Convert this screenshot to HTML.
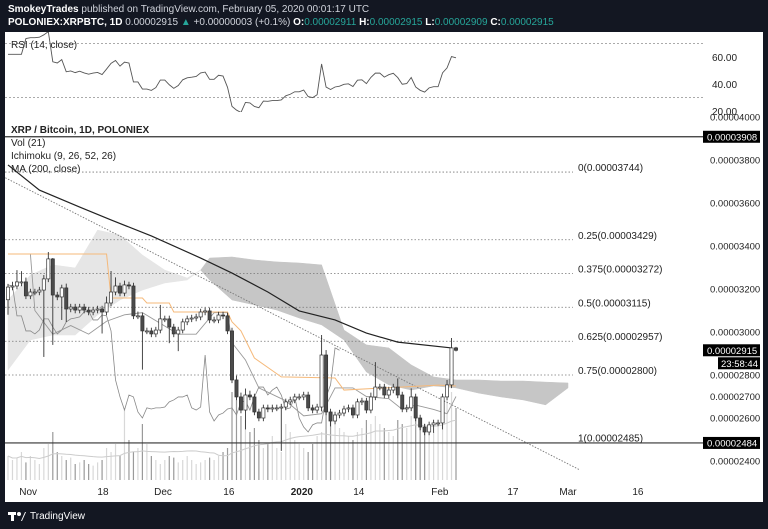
<!DOCTYPE html>
<html><head><meta charset="utf-8">
<style>
html,body{margin:0;padding:0;background:#131722;width:768px;height:529px;overflow:hidden;font-family:"Liberation Sans",sans-serif}
#hdr{position:absolute;left:8px;top:3px;color:#d1d4dc;font-size:10px;line-height:13px;white-space:nowrap}
#hdr b{color:#fff}
.g{color:#26a69a}
#panel{position:absolute;left:5px;top:32px;width:758px;height:470px;background:#fff}
svg{position:absolute;left:0;top:0}
#logo{position:absolute;left:8px;top:510px;color:#fff;font-size:10px;display:flex;align-items:center;gap:4px}
</style></head><body>
<div id="hdr">
<div><b>SmokeyTrades</b> published on TradingView.com, February 05, 2020 00:01:17 UTC</div>
<div><b>POLONIEX:XRPBTC, 1D</b> 0.00002915 <span class="g">▲</span> +0.00000003 (+0.1%) <b>O:</b><span class="g">0.00002911</span> <b>H:</b><span class="g">0.00002915</span> <b>L:</b><span class="g">0.00002909</span> <b>C:</b><span class="g">0.00002915</span></div>
</div>
<div id="panel"></div>
<svg id="chart" width="768" height="529"></svg>
<div id="logo"><svg width="18" height="12" style="position:static"><rect x="0" y="2" width="8" height="3" fill="#fff"/><rect x="3" y="2" width="3" height="9" fill="#fff"/><circle cx="11" cy="4" r="2" fill="#fff"/><path d="M13 11 L17 2 L18 2 L14 11Z" fill="#fff"/></svg><span>TradingView</span></div>
<script>
const closes=[3209,3214,3233,3233,3168,3186,3186,3195,3247,3340,3172,3163,3205,3107,3116,3102,3116,3102,3093,3102,3107,3093,3135,3186,3214,3181,3219,3214,3075,3075,3005,3005,2991,3009,3061,3061,3023,2991,3009,3047,3061,3065,3070,3093,3098,3056,3056,3079,3075,3005,2777,2698,2637,2707,2698,2628,2600,2647,2642,2647,2647,2651,2675,2684,2698,2698,2707,2647,2637,2651,2893,2628,2586,2614,2623,2642,2647,2614,2675,2679,2637,2698,2744,2744,2707,2730,2744,2707,2642,2647,2698,2600,2558,2535,2568,2577,2577,2698,2754,2926,2915];
const firstOpen=3150;
const wickUp=[15,20,55,50,20,15,15,15,18,32,4,15,15,20,15,15,15,15,15,15,15,15,30,98,40,15,20,15,15,20,15,15,15,15,65,15,15,15,15,15,15,15,15,15,15,15,15,15,15,15,15,20,20,30,20,15,15,15,15,15,15,15,15,15,15,15,15,15,15,15,93,23,15,15,15,15,15,15,15,15,15,20,116,15,15,15,15,40,15,15,40,15,15,15,15,15,15,15,23,46,5];
const wickDn=[70,15,15,20,15,15,15,15,311,15,232,15,107,60,15,15,15,15,15,15,15,100,15,15,15,15,15,15,15,15,180,15,15,15,15,15,75,15,80,15,15,15,15,15,15,15,15,15,15,15,15,15,15,90,15,15,15,15,15,15,15,200,15,15,15,15,15,15,15,15,20,15,25,15,15,15,15,15,15,15,15,15,15,15,15,15,15,15,15,15,15,15,15,15,15,37,15,30,15,15,5];
const volumes=[30,25,28,35,22,30,25,20,40,45,60,35,30,25,28,20,22,25,20,18,22,25,40,35,45,30,90,50,35,40,70,45,30,25,20,25,30,28,22,25,30,25,20,22,25,28,25,30,35,40,110,100,80,75,60,65,50,40,45,55,40,35,70,60,50,45,40,35,45,55,60,95,80,70,65,60,55,50,60,65,75,70,80,70,65,60,55,75,70,65,80,85,75,70,65,60,70,80,100,110,90];
const maDays=[0,7,16,23,32,43,50,58,65,73,80,87,99];
const maVals=[3777,3660,3581,3521,3447,3344,3274,3186,3098,3056,2995,2953,2926];
const baseDays=[0,22,23,30,31,36,37,49,50,52,55,61,73,75,96,100];
const baseVals=[3363,3363,3158,3158,3135,3135,3093,3093,3047,3005,2879,2791,2786,2730,2753,2749];
const convDays=[0,5,6,10,14,18,22,26,30,34,38,42,46,49,50,53,56,62,66,70,73,77,80,85,88,91,95,98,100];
const convVals=[3363,3363,3100,2990,3030,2990,3050,3080,3090,3040,2990,2990,3090,3090,2950,2870,2740,2680,2610,2620,2740,2740,2700,2690,2640,2660,2640,2620,2700];
const cloudDays=[0,5,10,15,20,25,30,35,40,43,45,50,55,60,65,70,75,80,85,90,95,100,105,110,115,120,125];
const spanA=[3149,3265,3312,3298,3474,3451,3358,3288,3251,3288,3242,3149,3126,3102,3065,3033,2963,2814,2754,2730,2749,2740,2716,2698,2684,2661,2740];
const spanB=[2823,2963,2986,2986,3079,3149,3195,3228,3242,3288,3344,3349,3335,3326,3321,3312,3009,2940,2926,2847,2791,2777,2777,2772,2772,2767,2763];
const trendDays=[-1.8,127.7];
const trendVals=[3730,2358];
const fibLevels=["0","0.25","0.375","0.5","0.625","0.75","1"];
const fibVals=[3744,3429,3272,3115,2957,2800,2485];
const priceTicks=[4000,3800,3600,3400,3200,3000,2800,2700,2600,2400];
const xLabels=["Nov","18","Dec","16","2020","14","Feb","17","Mar","16"];
const xLabelDays=[4.5,21.2,34.6,49.3,65.6,78.3,96.4,112.7,125,140.6];

const NS="http://www.w3.org/2000/svg";
const svg=document.getElementById('chart');
const X=d=>8+d*4.48;
const Y=v=>160+(3800-v)*0.215;
const fmt=v=>"0.0000"+String(v).padStart(4,"0");
function mk(tag,attrs,parent){const e=document.createElementNS(NS,tag);for(const k in attrs)e.setAttribute(k,attrs[k]);(parent||svg).appendChild(e);return e;}
function txt(s,x,y,size,fill,weight,parent,anchor){const t=mk('text',{x:x,y:y,'font-size':size,fill:fill,'font-family':'Liberation Sans, sans-serif','font-weight':weight||'normal','text-anchor':anchor||'start'},parent);t.textContent=s;return t;}

const defs=mk('defs',{});const cp=mk('clipPath',{id:'mc'},defs);mk('rect',{x:5,y:113,width:698,height:368},cp);
const cp2=mk('clipPath',{id:'rc'},defs);mk('rect',{x:5,y:32,width:698,height:80},cp2);

// RSI pane
const rsiG=mk('g',{'clip-path':'url(#rc)'});


const RY=r=>43.5+(70-r)*1.35;
mk('line',{x1:5,x2:703,y1:RY(70),y2:RY(70),stroke:'#aaa','stroke-dasharray':'2,2'},rsiG);
mk('line',{x1:5,x2:703,y1:RY(30),y2:RY(30),stroke:'#aaa','stroke-dasharray':'2,2'},rsiG);
let opens=[firstOpen];for(let i=1;i<closes.length;i++)opens.push(closes[i-1]);
let ag=0,al=0,rsi=[];const seq=[firstOpen].concat(closes);
for(let i=1;i<seq.length;i++){const ch=seq[i]-seq[i-1];const g=Math.max(ch,0),l=Math.max(-ch,0);
 if(i<=3){ag=(ag*(i-1)+g)/i;al=(al*(i-1)+l)/i;}else{ag=(ag*13+g)/14;al=(al*13+l)/14;}
 let r=al===0?70:100-100/(1+ag/al);r=45+(r-50)*0.85;rsi.push(r);}
let rp=rsi.map((r,i)=>X(i)+','+RY(r)).join(' ');
const rl=mk('polyline',{points:rp,fill:'none',stroke:'#555','stroke-width':0.9},rsiG);


txt('RSI (14, close)',11,48,10,'#222','normal');
[['60.00',60],['40.00',40],['20.00',20]].forEach(a=>{const t=txt(a[0],712,RY(a[1])+4,10,'#222');});

// main pane
const G=mk('g',{'clip-path':'url(#mc)'});


for(let i=0;i<cloudDays.length-1;i++){
 const d0=cloudDays[i],d1=cloudDays[i+1];
 const bull=(spanA[i]+spanA[i+1])>=(spanB[i]+spanB[i+1]);
 const p=mk('polygon',{points:`${X(d0)},${Y(spanA[i])} ${X(d1)},${Y(spanA[i+1])} ${X(d1)},${Y(spanB[i+1])} ${X(d0)},${Y(spanB[i])}`,fill:bull?'#e6e6e6':'#c6c6c6',stroke:bull?'#e6e6e6':'#c6c6c6','stroke-width':0.5},G);
 
 
}
const vg=mk('g',{},G);


volumes.forEach((v,i)=>{const r=mk('rect',{x:X(i)-0.6,y:480-v*0.8,width:1.2,height:v*0.8,fill:closes[i]>=opens[i]?'#d8d8d8':'#9a9a9a'},vg);
 
 });
let vm=[];for(let i=0;i<volumes.length;i++){const s=volumes.slice(Math.max(0,i-20),i+1);vm.push(X(i)+','+(480-s.reduce((a,b)=>a+b,0)/s.length*0.8));}
mk('polyline',{points:vm.join(' '),fill:'none',stroke:'#ccc','stroke-width':1},G);
fibVals.forEach((v,i)=>{if(i===fibVals.length-1)return;const l=mk('line',{x1:5,x2:573,y1:Y(v),y2:Y(v),stroke:'#777','stroke-dasharray':'1.5,2','stroke-width':0.8},G);
 
 });
const tl=mk('line',{x1:X(trendDays[0]),y1:Y(trendVals[0]),x2:X(trendDays[1]),y2:Y(trendVals[1]),stroke:'#777','stroke-dasharray':'1.5,1.5','stroke-width':0.9},G);


let lp=closes.map((c,i)=>i>=26?X(i-26)+','+Y(c):null).filter(Boolean).join(' ');
mk('polyline',{points:lp,fill:'none',stroke:'#888','stroke-width':0.8},G);
mk('polyline',{points:convDays.map((d,i)=>X(d)+','+Y(convVals[i])).join(' '),fill:'none',stroke:'#999','stroke-width':0.9},G);
mk('polyline',{points:baseDays.map((d,i)=>X(d)+','+Y(baseVals[i])).join(' '),fill:'none',stroke:'#f5b97a','stroke-width':1},G);
const ma=mk('polyline',{points:maDays.map((d,i)=>X(d)+','+Y(maVals[i])).join(' '),fill:'none',stroke:'#222','stroke-width':1.2},G);


closes.forEach((c,i)=>{const o=opens[i];const hi=Math.max(o,c)+wickUp[i],lo=Math.min(o,c)-wickDn[i];const x=X(i);
 const g=mk('g',{},G);
 
 
 mk('line',{x1:x,x2:x,y1:Y(hi),y2:Y(lo),stroke:'#333','stroke-width':0.9},g);
 const top=Y(Math.max(o,c)),h=Math.max(1,Y(Math.min(o,c))-top);
 mk('rect',{x:x-1.6,y:top,width:3.2,height:h,fill:c>=o?'#fff':'#4b4b4b',stroke:'#333','stroke-width':0.7},g);
});
[3908,2484].forEach(v=>{const l=mk('line',{x1:5,x2:703,y1:Y(v),y2:Y(v),stroke:'#333','stroke-width':1.2});
 
 });
fibVals.forEach((v,i)=>{const t=txt(fibLevels[i]+'('+fmt(v)+')',578,Y(v)-1,10,'#222');
 
 });
[['XRP / Bitcoin, 1D, POLONIEX',133,'bold'],['Vol (21)',146,'normal'],['Ichimoku (9, 26, 52, 26)',159,'normal'],['MA (200, close)',172,'normal']].forEach(a=>{
 const t=txt(a[0],11,a[1],10,'#222',a[2]);
 
 });
priceTicks.forEach(v=>{const t=txt(fmt(v),710,Y(v)+3.5,9.5,'#222');
 
 });
function tag(label,y){mk('rect',{x:703,y:y-6,width:57,height:12,fill:'#000'});const t=txt(label,707,y+3.5,9.5,'#fff');}
tag(fmt(3908),Y(3908));tag(fmt(closes[closes.length-1]),Y(closes[closes.length-1]));
mk('rect',{x:718,y:Y(closes[closes.length-1])+7,width:42,height:12,fill:'#000'});
txt('23:58:44',721,Y(closes[closes.length-1])+16.5,9.5,'#fff');
tag(fmt(2484),Y(2484));
xLabels.forEach((s,i)=>{const t=txt(s,X(xLabelDays[i]),495,10,'#222',s==='2020'?'bold':'normal',null,'middle');
 
 });
</script>
</body></html>
